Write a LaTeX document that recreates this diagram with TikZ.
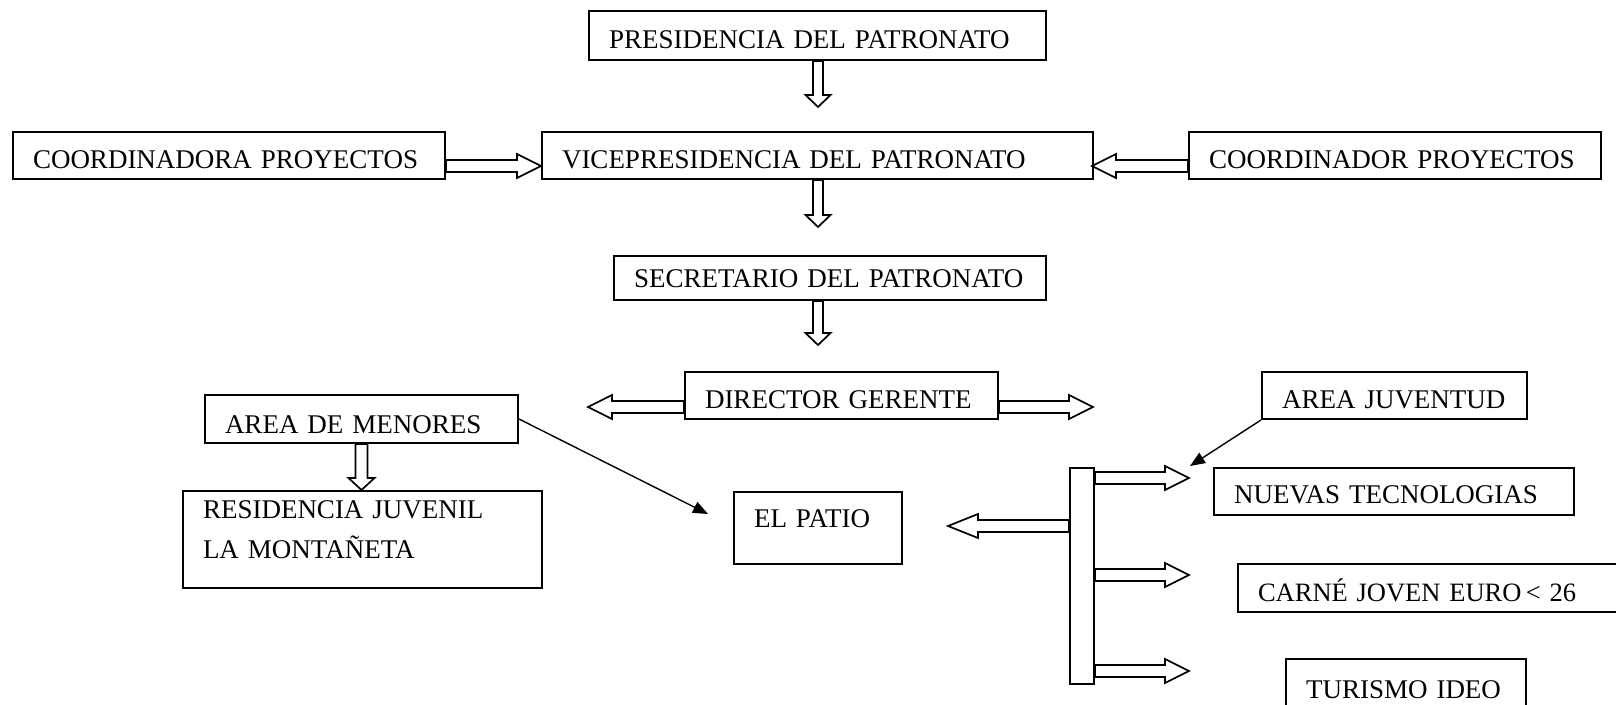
\documentclass[tikz,border=0pt]{standalone}
\usepackage{fontspec}
\setmainfont{Liberation Serif}
\usetikzlibrary{positioning,calc,arrows.meta,backgrounds}

\begin{document}
\begin{tikzpicture}
    [x=1pt,y=-1pt,
     box/.style={draw,line width=2pt,anchor=north west,inner xsep=20pt,inner ysep=0pt,
       align=left,text height=36pt,text depth=11pt,font=\fontsize{27}{40}\selectfont},
     fat/.style n args={3}{draw,fill=white,line width=1.7pt,
       to path={($(\tikztostart)!#1!90:(\tikztotarget)$)
         -- ($($(\tikztotarget)!#3!(\tikztostart)$)!#1!90:(\tikztotarget)$)
         -- ($($(\tikztotarget)!#3!(\tikztostart)$)!#2!90:(\tikztotarget)$)
         -- (\tikztotarget)
         -- ($($(\tikztotarget)!#3!(\tikztostart)$)!#2!-90:(\tikztotarget)$)
         -- ($($(\tikztotarget)!#3!(\tikztostart)$)!#1!-90:(\tikztotarget)$)
         -- ($(\tikztostart)!#1!-90:(\tikztotarget)$) -- cycle}},
     vfat/.style={fat={5pt}{12.5pt}{12pt}},
     hfat/.style={fat={6pt}{12pt}{24pt}},
     link/.style={line width=1.4pt,-{Triangle[length=15pt,width=12pt]}}]
    \useasboundingbox (0,0) rectangle (1616,704);

    % top of the chart
    \node[box,text width=417pt,text height=37pt,text depth=12pt] (pres) at (588,10) {PRESIDENCIA DEL PATRONATO};
    \node[box,text width=511pt] (vice) at (541,131) {VICEPRESIDENCIA DEL PATRONATO};
    \node[box,text width=392pt] (coordA) at (12,131) {COORDINADORA PROYECTOS};
    \node[box,text width=372pt] (coordB) at (1188,131) {COORDINADOR PROYECTOS};
    \node[box,text width=392pt,text height=31pt,text depth=13pt] (sec) at (613,255) {SECRETARIO DEL PATRONATO};
    \node[box,text width=273pt] (dir) at (684,371) {DIRECTOR GERENTE};

    % left branch
    \node[box,text width=273pt,text height=38pt,text depth=10pt] (menores) at (204,394) {AREA DE MENORES};
    \node[box,text width=319pt,text height=27pt,text depth=70pt] (resid) at (182,490) {RESIDENCIA JUVENIL\\LA MONTAÑETA};
    \node[box,text width=128pt,text height=35pt,text depth=37pt] (patio) at (733,491) {EL PATIO};

    % right branch
    \node[box,text width=225pt] (juv) at (1261,371) {AREA JUVENTUD};
    \node[draw,line width=2pt,anchor=north west,inner sep=0pt,minimum width=24pt,minimum height=216pt] (bar) at (1069,467) {};
    \node[box,text width=320pt,text height=35pt,text depth=12pt] (nuevas) at (1213,467) {NUEVAS TECNOLOGIAS};
    \node[box,text width=380pt,text height=37pt,font=\fontsize{26.5}{40}\selectfont] (carne) at (1237,563) {CARNÉ JOVEN EURO\,<\ 26};
    \node[box,text width=200pt,text height=39pt,text depth=31pt] (turismo) at (1285,658) {TURISMO IDEO};

    \coordinate (v1) at (818,107);
    \coordinate (v2) at (818,227);
    \coordinate (v3) at (818,345);
    \coordinate (c1) at (541,166);
    \coordinate (c2) at (1092,166);
    \coordinate (dl) at (588,407);
    \coordinate (dr) at (1093,407);
    \coordinate (pl) at (948,526);
    \coordinate (n1) at (1189,478);
    \coordinate (n2) at (1189,575);
    \coordinate (n3) at (1189,671);
    \coordinate (tp) at (708,514);
    \coordinate (tj) at (1190,466);

    \begin{scope}[on background layer]
    \draw[vfat] (v1 |- pres.south) to (v1);
    \draw[vfat] (v2 |- vice.south) to (v2);
    \draw[vfat] (v3 |- sec.south) to (v3);
    \draw[fat={6pt}{13pt}{12pt}] (menores.south) to (menores.south |- resid.north);
    \draw[hfat] (coordA.east |- c1) to (c1);
    \draw[hfat] (coordB.west |- c2) to (c2);
    \draw[hfat] (dir.west |- dl) to (dl);
    \draw[hfat] (dir.east |- dr) to (dr);
    \draw[fat={6pt}{12pt}{30pt}] (bar.west |- pl) to (pl);
    \foreach \n in {n1,n2,n3}
      \draw[hfat] (bar.east |- \n) to (\n);
    \end{scope}

    \draw[link] (menores.east) -- (tp);
    \draw[link] (juv.south west) -- (tj);
\end{tikzpicture}
\end{document}
